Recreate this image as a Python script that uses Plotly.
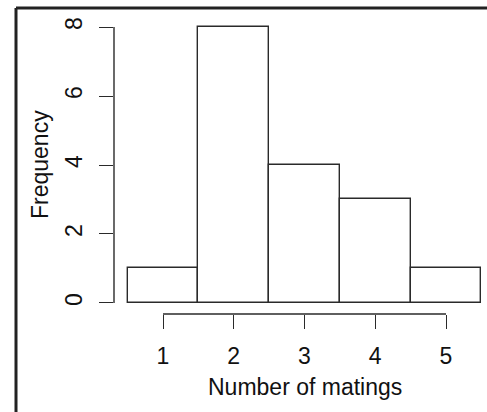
import plotly.graph_objects as go

matings = [1, 2, 3, 4, 5]
frequency = [1, 8, 4, 3, 1]
y_ticks = [0, 2, 4, 6, 8]
x_ticks = [1, 2, 3, 4, 5]

W, H = 487, 412
L, R, T, B = 114, 0, 16, 98
pw, ph = W - L - R, H - T - B

FONT = "Liberation Sans, Arial, Helvetica, sans-serif"
INK = "#2a2a2a"
FS = 23

fig = go.Figure()
fig.add_trace(go.Bar(
    x=matings, y=frequency, width=1,
    marker=dict(color="white", line=dict(color=INK, width=1.4)),
    hoverinfo="skip",
))

def px_to_paper_x(px):
    return (px - L) / pw

def px_to_paper_y(py):
    return (H - B - py) / ph

shapes = [
    dict(type="line", xref="paper", yref="y", x0=0, x1=0,
         y0=y_ticks[0], y1=y_ticks[-1], line=dict(color=INK, width=1.4)),
    dict(type="line", xref="x", yref="paper", x0=x_ticks[0], x1=x_ticks[-1],
         y0=0, y1=0, line=dict(color=INK, width=1.4)),
    dict(type="line", xref="paper", yref="paper",
         x0=px_to_paper_x(16), x1=px_to_paper_x(16),
         y0=px_to_paper_y(8), y1=px_to_paper_y(H + 5), line=dict(color="#222", width=3)),
    dict(type="line", xref="paper", yref="paper",
         x0=px_to_paper_x(16), x1=px_to_paper_x(W + 5),
         y0=px_to_paper_y(8), y1=px_to_paper_y(8), line=dict(color="#222", width=3)),
]

annotations = [
    dict(text="Number of matings", xref="paper", yref="paper",
         x=px_to_paper_x(305), y=px_to_paper_y(387), showarrow=False,
         xanchor="center", yanchor="middle", font=dict(size=FS, color="#111", family=FONT)),
    dict(text="Frequency", xref="paper", yref="paper", textangle=-90,
         x=px_to_paper_x(40), y=px_to_paper_y(165), showarrow=False,
         xanchor="center", yanchor="middle", font=dict(size=FS, color="#111", family=FONT)),
]

fig.update_layout(
    width=W, height=H,
    margin=dict(l=L, r=R, t=T, b=B, pad=0, autoexpand=False),
    paper_bgcolor="white", plot_bgcolor="white",
    showlegend=False, bargap=0,
    font=dict(family=FONT, size=FS, color="#111"),
    shapes=shapes, annotations=annotations,
)
fig.update_xaxes(
    range=[0.3074, 0.3074 + pw / 70.75], tickvals=x_ticks,
    ticks="outside", ticklen=14, tickwidth=1.4, tickcolor=INK,
    showline=False, showgrid=False, zeroline=False, automargin=False,
    ticklabelstandoff=7, fixedrange=True,
)
fig.update_yaxes(
    range=[-0.32, 8.32], tickvals=y_ticks, tickangle=-90,
    ticks="outside", ticklen=14, tickwidth=1.4, tickcolor=INK,
    showline=False, showgrid=False, zeroline=False, automargin=False,
    ticklabelstandoff=8, fixedrange=True,
)

fig.write_html(
    "out.html",
    config={"displayModeBar": False},
    post_script="document.body.style.margin='0';document.body.style.overflow='hidden';",
)
